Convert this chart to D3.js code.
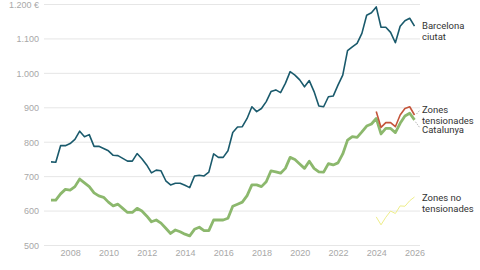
<!DOCTYPE html>
<html>
<head>
<meta charset="utf-8">
<script src="https://cdn.jsdelivr.net/npm/d3@7"></script>
<style>
  body { margin: 0; background: #fff; }
  svg { font-family: Roboto, "Noto Sans", sans-serif; }
  .grid line { stroke: #e6e6e6; }
  .axis text { fill: #a8a8a8; font-size: 9px; }
  .lbl { fill: #333; font-size: 9.5px; }
</style>
</head>
<body>
<svg width="480" height="270"></svg>
<script>
  // quarterly series, first point 2007 Q1
  var startYear = 2007;
  var barcelona = [743, 742, 790, 790, 796, 808, 832, 816, 822, 788, 788, 782,
    775, 762, 761, 753, 745, 745, 767, 752, 734, 711, 719, 717,
    688, 676, 681, 681, 675, 668, 702, 704, 702, 713, 766, 756,
    756, 775, 828, 844, 845, 869, 903, 889, 898, 918, 947, 952,
    944, 971, 1005, 995, 981, 961, 979, 947, 905, 903, 932, 934,
    966, 995, 1066, 1077, 1087, 1116, 1169, 1176, 1193, 1134, 1134, 1119,
    1089, 1137, 1153, 1160, 1137];
  var catalunya = [632, 632, 650, 663, 661, 671, 693, 682, 671, 653, 644, 640,
    626, 615, 620, 608, 596, 596, 608, 600, 586, 569, 574, 565,
    550, 535, 545, 540, 533, 528, 547, 553, 543, 543, 574, 574,
    574, 579, 614, 620, 626, 645, 676, 676, 671, 685, 717, 714,
    710, 724, 756, 750, 737, 724, 745, 724, 714, 713, 738, 734,
    740, 766, 806, 816, 814, 830, 847, 853, 869, 824, 840, 840,
    828, 855, 876, 884, 865];
  // zones series start 2024 Q1
  var zonesStart = 2024;
  var tensionades = [889, 843, 857, 857, 845, 879, 898, 903, 879];
  var noTensionades = [583, 560, 582, 600, 593, 615, 614, 630, 641];

  var yTicks = [500, 600, 700, 800, 900, 1000, 1100, 1200];
  var xTicks = [2008, 2010, 2012, 2014, 2016, 2018, 2020, 2022, 2024, 2026];

  var svg = d3.select("svg");

  var x = d3.scaleLinear().domain([2007, 2026]).range([51, 414.5]);
  var y = d3.scaleLinear().domain([500, 1200]).range([245.5, 4.5]);

  var fmt = d3.formatLocale({ decimal: ",", thousands: ".", grouping: [3], currency: ["", " €"] }).format(",");

  // gridlines
  svg.append("g").attr("class", "grid")
    .selectAll("line").data(yTicks).enter().append("line")
    .attr("x1", 44).attr("x2", 420)
    .attr("y1", d => y(d)).attr("y2", d => y(d));

  var yAxis = svg.append("g").attr("class", "axis")
    .attr("transform", "translate(39,0)")
    .call(d3.axisLeft(y).tickValues(yTicks).tickSize(0).tickPadding(0)
      .tickFormat(d => d == 1200 ? fmt(d) + " €" : fmt(d)));
  yAxis.select(".domain").remove();

  var xAxis = svg.append("g").attr("class", "axis")
    .attr("transform", "translate(0,250)")
    .call(d3.axisBottom(x).tickValues(xTicks).tickSize(0).tickPadding(0).tickFormat(d3.format("d")));
  xAxis.select(".domain").remove();

  function pts(arr, start) {
    return arr.map((v, i) => [start + i / 4, v]);
  }
  var line = d3.line().x(d => x(d[0])).y(d => y(d[1]));

  var series = [
    { data: pts(catalunya, startYear), color: "#8cb86d", w: 2.8 },
    { data: pts(barcelona, startYear), color: "#1a5a6c", w: 1.6 },
    { data: pts(noTensionades, zonesStart), color: "#eeee8a", w: 1 },
    { data: pts(tensionades, zonesStart), color: "#c4553b", w: 1.6 }
  ];

  svg.selectAll("path.s").data(series).enter().append("path")
    .attr("class", "s")
    .attr("fill", "none")
    .attr("stroke", d => d.color)
    .attr("stroke-width", d => d.w)
    .attr("stroke-linejoin", "round")
    .attr("d", d => line(d.data));

  // leader dots
  var lx = x(2026);
  svg.append("line").attr("x1", lx + 2).attr("y1", y(tensionades[8]) - 1)
    .attr("x2", 420).attr("y2", 110).attr("stroke", "#999").attr("stroke-dasharray", "1,1.5");
  svg.append("line").attr("x1", lx + 1).attr("y1", y(catalunya[76]) + 2)
    .attr("x2", 420).attr("y2", 128).attr("stroke", "#999").attr("stroke-dasharray", "1,1.5");

  var labels = [
    { lines: ["Barcelona", "ciutat"], y: 26 },
    { lines: ["Zones", "tensionades"], y: 109.5 },
    { lines: ["Catalunya"], y: 130 },
    { lines: ["Zones no", "tensionades"], y: 197.5 }
  ];
  labels.forEach(function(l) {
    l.lines.forEach(function(t, i) {
      svg.append("text").attr("class", "lbl")
        .attr("x", 422).attr("y", l.y + i * 10.7).attr("dy", "0.35em")
        .text(t);
    });
  });
</script>
</body>
</html>
